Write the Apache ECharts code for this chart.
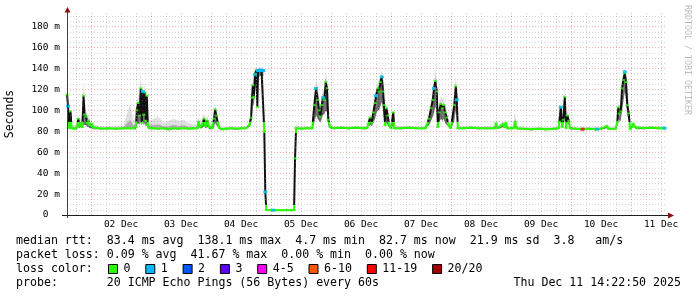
<!DOCTYPE html>
<html><head><meta charset="utf-8">
<script src="https://cdn.jsdelivr.net/npm/echarts@6/dist/echarts.min.js"></script>
<style>html,body{margin:0;padding:0;background:#fff}#c{width:697px;height:297px}</style>
</head><body><div id="c"></div>
<script>
// hours since 01 Dec 00:00 ; median rtt (ms) ; smoke bottom / top (ms)
const hours = [
  14.4,14.8,15.2,15.8,16.2,17.5,18.4,18.9,19.4,19.9,20.5,21.0,21.4,22.0,22.5,22.9,23.6,24.3,25.0,25.6,
  28,31,34,37,39.6,41.0,42.0,42.3,42.8,43.3,43.9,44.3,44.7,45.1,45.5,45.9,46.3,46.7,47.3,
  49,51,53,55,57,59,61,63,65,66.5,67.0,67.5,68.4,69.2,69.8,70.5,71.3,72.5,73.2,73.6,74.1,74.7,75.4,
  76.5,78,80,82,84,86,87.3,88.0,88.4,88.7,89.1,89.6,90.1,90.5,90.8,91.5,92.2,92.9,93.3,93.7,94.1,96,98,100,102,104,105.2,105.6,106.0,
  108,110,112.5,113.3,114.0,114.7,115.2,115.7,116.3,116.8,117.3,117.9,118.4,118.9,119.6,
  121,124,127,130,133,134.4,134.9,135.6,136.3,136.9,137.6,138.0,138.7,139.2,139.7,140.3,140.8,141.2,141.6,142.1,142.7,143.2,144.0,144.9,145.3,
  148,151,154,157.8,158.3,159.2,160.0,160.7,161.2,161.7,162.3,162.7,163.2,163.9,164.5,165.1,165.6,166.3,166.9,167.9,169.3,169.9,170.3,170.7,
  173,176,179,182,185.5,186.0,186.6,188.9,189.4,189.9,190.5,193.0,193.6,194.2,
  197,200,203,206,209,211.0,211.3,211.9,212.4,212.9,213.5,214.0,214.5,215.1,215.6,
  218,220.6,223,226.3,228,230.3,231,233.8,234.5,234.9,235.3,235.9,236.4,236.9,237.5,238.0,238.5,239.1,239.6,240.3,240.9,241.6,242.3,245,248,251,253.4
];
const medianMs = [
  115,104,83,99,83,82.5,84,92,85,88,84,114,96,94,88,90,86,87,84,83,
  82.5,83,82.5,83,83,83,84,100,107,95,121,88,118,96,117,90,114,86,83,
  83,82.5,83,82,83,82.5,83,82.5,83,83,89,84,86,92,85,90,84,83,92,101,95,88,83,
  82,82.5,83,82.5,83,83,86,93,112,124,113,135,138.5,103,138,138.5,138,138,80,22,4.8,4.6,4.7,4.6,4.7,4.6,4.7,54,83,
  82.5,83,83,105,121,110,100,94,105,112,110,127,121,91,84,
  83,83.5,83,83.5,83,83,87,93,88,98,107,114,121,118,127,132,118,105,86,102,95,86,83,98,83,
  83,83.5,83,83,86,92,102,110,121,128,118,84,98,106,102,105,98,93,86,83,105,123,110,83,
  83,83.5,83,83,83,87.6,83,87,84,88,83,83,89,83,
  82.5,82,82.5,82,82.5,83,89,103,84,91,113,83,95,90,83,
  82.5,82,82.5,82,82.5,85,82.5,82.5,89,103,97,99,121,129,135.5,127,105,97,82,84,87,84,83,83,83.5,83,83
];
const smokeLowMs = [
  84,84,82,83,82,82,82,84,83,84,83,86,86,86,84,84,83,83,82,82,
  82,82,82,82,82,82,82,86,88,86,90,85,90,86,88,85,86,83,82,
  82,82,82,81,82,82,82,82,82,82,84,83,83,85,83,84,82,82,84,88,86,84,82,
  81,81.5,82,81.5,82,82,84,87,95,108,104,118,128,100,130,133,133,133,78,20,4.2,4.2,4.2,4.2,4.2,4.2,4.2,50,82,
  82,82,82,88,95,92,90,88,92,96,96,100,98,86,83,
  82,82.5,82,82.5,82,82,84,86,85,88,92,96,100,100,104,108,100,92,84,88,86,84,82,86,82,
  82,82.5,82,82,84,86,90,94,98,104,98,83,88,92,90,92,88,86,84,82,90,100,94,82,
  82,82.5,82,82,82,84,82,84,83,84,82,82,84,82,
  81.5,81,81.5,81,81.5,82,85,90,83,86,95,82,88,86,82,
  81.5,81,81.5,81,81.5,83,81.5,81.5,85,92,90,90,100,108,118,110,95,90,81,83,85,83,82,82,82.5,82,82
];
const smokeTopMs = [
  120,112,88,102,86,86,90,96,90,93,92,127,110,100,96,95,92,90,88,86,
  85,85,85,86,106,90,95,108,115,110,138,110,130,112,128,105,124,100,90,
  92,94,88,90,92,90,91,88,87,86,95,90,92,97,90,95,88,87,98,107,100,92,86,
  84,84,85,84,85,85,88,100,120,132,128,140,142,130,141,141,141,141,100,40,6,5.5,5.5,5.5,5.5,5.5,6,60,86,
  85,85,85,112,130,122,112,105,115,120,120,138,130,100,88,
  85,85,85,85,85,85,90,97,94,104,115,120,128,126,134,138,128,118,100,108,103,92,86,102,86,
  85,85,85,85,90,97,108,117,130,140,128,100,106,114,110,112,106,100,92,86,115,135,120,86,
  85,85,85,85,85,92,85,90,86,91,85,85,100,85,
  84,84,84,84,84,85,93,110,90,96,124,92,100,96,86,
  84,84,84,84,84,87,84,84,93,108,104,106,128,136,140,135,115,106,90,88,90,86,85,85,85,85,85
];
// samples with packet loss (hour, median ms, lost pings of 20)
const lossHours = [14.8,44.7,89.6,90.8,91.1,91.5,91.9,92.2,92.6,92.9,93.7,96.9,114.0,116.8,138.0,140.3,161.2,170.3,211.9,220.6,226.3,237.5,253.4];
const lossMs    = [104,118,134,138,138,138.5,138,138,138,138,22,4.6,121,112,114,132,121,110,103,82,82,137,83];
const lossCount = [1,1,1,1,1,1,1,1,1,1,1,1,1,1,1,1,1,1,1,12,1,1,1];

const dayLabelHours = [36,60,84,108,132,156,180,204,228,252];
const dayLabels = ['02 Dec','03 Dec','04 Dec','05 Dec','06 Dec','07 Dec','08 Dec','09 Dec','10 Dec','11 Dec'];
const yLabelValues = [0,20,40,60,80,100,120,140,160,180];

const lossLegendLabels = ['0','1','2','3','4-5','6-10','11-19','20/20'];
const lossLegendColors = ['#26ff00','#00b8ff','#0059ff','#5e00ff','#ff00ff','#ff5500','#ff0000','#a10000'];
const lossLegendMax    = [0,1,2,3,5,10,19,20];

const statLines = [
  'median rtt:  83.4 ms avg  138.1 ms max  4.7 ms min  82.7 ms now  21.9 ms sd  3.8   am/s',
  'packet loss: 0.09 % avg  41.67 % max  0.00 % min  0.00 % now',
  'loss color:',
  'probe:       20 ICMP Echo Pings (56 Bytes) every 60s'
];
const stampText = 'Thu Dec 11 14:22:50 2025';
const creditText = 'RRDTOOL / TOBI OETIKER';

const X_MIN = 14.38, X_MAX = 254.38, Y_MAX = 193;
const MONO = '"DejaVu Sans Mono", monospace';
const GREEN = lossLegendColors[0];

function lossColor(n){ for (let i=0;i<lossLegendMax.length;i++) if (n<=lossLegendMax[i]) return lossLegendColors[i]; return lossLegendColors[7]; }

const medPairs = hours.map((h,i)=>[h, medianMs[i]]);
const smokeData = hours.map((h,i)=>[h, smokeLowMs[i], smokeTopMs[i]]);

const MAJ = {color:'rgba(255,0,0,0.33)', type:[1,2], width:1};
const MIN = {color:'rgba(150,150,150,0.42)', type:[1,2], width:1};
const gridLines = [];
for (let v=5; v<Y_MAX; v+=5) gridLines.push({yAxis:v, lineStyle: v%20===0 ? MAJ : MIN});
for (let h=18; h<X_MAX; h+=6) gridLines.push({xAxis:h, lineStyle: h%24===0 ? MAJ : MIN});

const chart = echarts.init(document.getElementById('c'), null, {renderer:'canvas', width:697, height:297});

const graphics = [];
graphics.push({type:'line', shape:{x1:67.5,y1:218,x2:67.5,y2:12}, style:{stroke:'#404040', lineWidth:1}, z:50});
graphics.push({type:'line', shape:{x1:62,y1:215.5,x2:669,y2:215.5}, style:{stroke:'#202020', lineWidth:1}, z:50});
graphics.push({type:'polygon', shape:{points:[[64.5,12.5],[70.5,12.5],[67.5,7]]}, style:{fill:'#8b1010'}, z:51});
graphics.push({type:'polygon', shape:{points:[[668,212.5],[668,218.5],[674,215.5]]}, style:{fill:'#8b1010'}, z:51});
graphics.push({type:'text', x:691, y:5, rotation:-Math.PI/2, style:{text:creditText, font:'8.3px '+MONO, fill:'#bdbdbd', align:'left', verticalAlign:'top'}, z:50});
const lineY = [241,255,269,283];
statLines.forEach((t,i)=>{
  graphics.push({type:'text', x:16, y:lineY[i], style:{text:t, font:'11.6px '+MONO, fill:'#000', align:'left', verticalAlign:'middle'}, z:50});
});
graphics.push({type:'text', x:681, y:283, style:{text:stampText, font:'11.6px '+MONO, fill:'#000', align:'right', verticalAlign:'middle'}, z:50});
let bx = 108.5;
lossLegendLabels.forEach((lab,i)=>{
  graphics.push({type:'rect', shape:{x:bx, y:264.5, width:9, height:9}, style:{fill:lossLegendColors[i], stroke:'#000', lineWidth:1}, z:50});
  graphics.push({type:'text', x:bx+15, y:269, style:{text:lab, font:'11.6px '+MONO, fill:'#000', align:'left', verticalAlign:'middle'}, z:50});
  bx = bx + 15 + lab.length*7 + 15.3;
});

// smoke: dark core around the median, lighter haze up to the top of the smoke
function renderSmoke(params, api){
  const i = params.dataIndex;
  if (i >= hours.length-1) return null;
  const mid = (k)=> medianMs[k] + (smokeTopMs[k]-medianMs[k])*0.35;
  const c = (k, v)=> api.coord([hours[k], v]);
  const l0 = c(i, smokeLowMs[i]), l1 = c(i+1, smokeLowMs[i+1]);
  const a0 = c(i, medianMs[i]), a1 = c(i+1, medianMs[i+1]);
  const m0 = c(i, mid(i)), m1 = c(i+1, mid(i+1));
  const t0 = c(i, smokeTopMs[i]), t1 = c(i+1, smokeTopMs[i+1]);
  return {type:'group', children:[
    {type:'polygon', shape:{points:[l0,l1,a1,a0]}, style:{fill:'rgba(0,0,0,0.62)'}},
    {type:'polygon', shape:{points:[a0,a1,m1,m0]}, style:{fill:'rgba(0,0,0,0.32)'}},
    {type:'polygon', shape:{points:[m0,m1,t1,t0]}, style:{fill:'rgba(0,0,0,0.12)'}}
  ]};
}

chart.setOption({
  animation:false,
  backgroundColor:'#fff',
  grid:{left:67, right:30, top:13, bottom:82, containLabel:false, outerBoundsMode:'none'},
  xAxis:{
    type:'value', min:X_MIN, max:X_MAX,
    axisLine:{show:false}, axisTick:{show:false}, splitLine:{show:false},
    axisLabel:{
      customValues: dayLabelHours,
      formatter:(v)=>{ const i = dayLabelHours.findIndex(h=>Math.abs(h-v)<0.01); return i>=0 ? dayLabels[i] : ''; },
      fontFamily:MONO, fontSize:9.5, color:'#000', margin:5, hideOverlap:false
    }
  },
  yAxis:{
    type:'value', min:0, max:Y_MAX,
    axisLine:{show:false}, axisTick:{show:false}, splitLine:{show:false},
    name:'Seconds', nameLocation:'middle', nameGap:51, nameRotate:90,
    nameTextStyle:{fontFamily:MONO, fontSize:11.5, color:'#000'},
    axisLabel:{
      customValues: yLabelValues,
      formatter:(v)=> yLabelValues.indexOf(v)<0 ? '' : (v===0 ? '0  ' : v+' m'),
      fontFamily:MONO, fontSize:9.5, color:'#000', margin:7
    }
  },
  visualMap:[{
    type:'piecewise', show:false, seriesIndex:2, dimension:1,
    pieces:[
      {lt:10, color:GREEN},
      {gte:10, lt:78, color:'#111'},
      {gte:78, lte:88.5, color:GREEN},
      {gt:88.5, color:'#111'}
    ]
  }],
  series:[
    {name:'grid', type:'line', data:medPairs, symbol:'none', lineStyle:{opacity:0}, z:1, silent:true,
     markLine:{silent:true, symbol:['none','none'], label:{show:false}, animation:false, data:gridLines}},
    {name:'smoke', type:'custom', data:smokeData, encode:{x:0, y:[1,2]}, renderItem:renderSmoke, z:2, silent:true, clip:true},
    {name:'median', type:'line', data:medPairs, symbol:'none', lineStyle:{width:2}, z:3, silent:true},
    {name:'medianPts', type:'scatter', data:medPairs, symbol:'rect', symbolSize:[3,2], itemStyle:{color:GREEN}, z:4, silent:true},
    {name:'loss', type:'scatter', data:lossHours.map((h,i)=>[h, lossMs[i], lossCount[i]]), symbol:'rect', symbolSize:[4,3],
     itemStyle:{color:(p)=>lossColor(p.data[2])}, z:5, silent:true}
  ],
  graphic: graphics
});
</script></body></html>
